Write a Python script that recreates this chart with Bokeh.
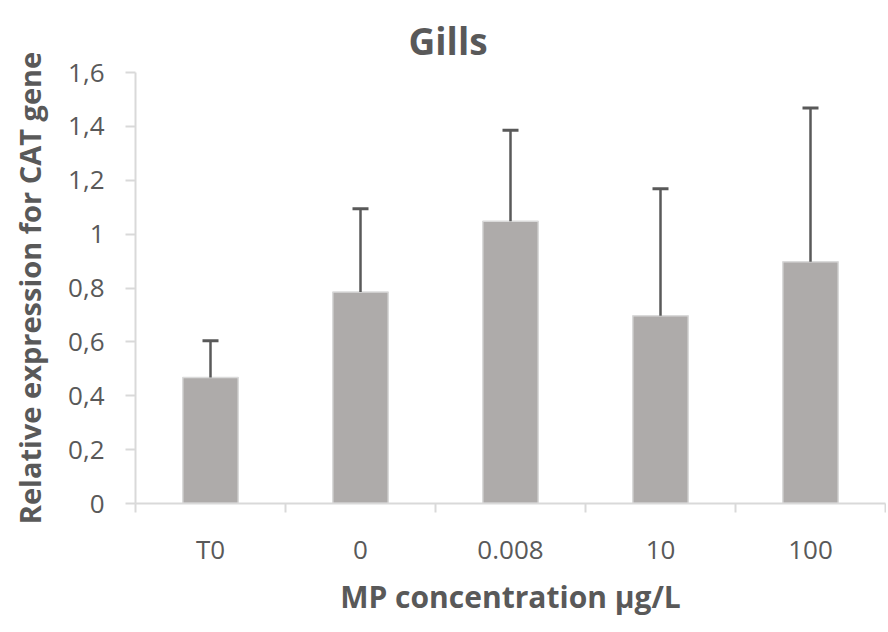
import numpy as np
from bokeh.plotting import figure
from bokeh.models import (ColumnDataSource, Range1d, FixedTicker, CustomJSTickFormatter,
                          Whisker, TeeHead)
from bokeh.embed import file_html
from bokeh.resources import INLINE

categories = ["T0", "0", "0.008", "10", "100"]
means = [0.468, 0.785, 1.048, 0.697, 0.897]
upper_err = [0.604, 1.094, 1.386, 1.168, 1.468]
y_ticks = [0, 0.2, 0.4, 0.6, 0.8, 1.0, 1.2, 1.4, 1.6]
title_text = "Gills"

FONT = "Open Sans"
TXT = "#595959"
AX = "#D9D9D9"
W, H = 886, 628

xpos = np.arange(len(categories)) + 0.5
src = ColumnDataSource(dict(x=xpos, value=means, upper=upper_err))

p = figure(width=W, height=H, output_backend="svg", toolbar_location=None,
           x_range=Range1d(0, len(categories)), y_range=Range1d(0, 1.6),
           min_border_left=135, min_border_right=1, min_border_top=72, min_border_bottom=125,
           title=title_text)
p.outline_line_color = None
p.grid.visible = False
p.background_fill_color = "white"
p.border_fill_color = "white"

p.title.align = "left"
p.title.offset = 273
p.title.vertical_align = "top"
p.title.text_font = FONT
p.title.text_font_size = "37px"
p.title.text_font_style = "bold"
p.title.text_color = TXT
p.title.standoff = 10

p.vbar(x="x", top="value", width=0.37, source=src,
       fill_color="#AEABAA", line_color="#DADADA", line_width=1.5)

w = Whisker(source=src, base="x", lower="value", upper="upper",
            line_color=TXT, line_width=2.5,
            upper_head=TeeHead(size=16, line_color=TXT, line_width=3),
            lower_head=None, level="overlay")
p.add_layout(w)

# x axis
xa = p.xaxis[0]
xa.ticker = FixedTicker(ticks=list(xpos), minor_ticks=list(np.arange(len(categories) + 1)))
xa.formatter = CustomJSTickFormatter(args=dict(cats=categories),
                                     code="return cats[Math.floor(tick)];")
xa.major_tick_out = 0
xa.major_tick_in = 0
xa.minor_tick_out = 9
xa.minor_tick_in = 0
xa.minor_tick_line_color = AX
xa.minor_tick_line_width = 2
xa.axis_line_color = AX
xa.axis_line_width = 2
xa.major_label_text_font = FONT
xa.major_label_text_font_size = "26px"
xa.major_label_text_color = TXT
xa.major_label_standoff = 18
xa.axis_label = "MP concentration µg/L"
xa.axis_label_text_font = FONT
xa.axis_label_text_font_size = "30px"
xa.axis_label_text_font_style = "bold"
xa.axis_label_text_color = TXT
xa.axis_label_standoff = 6

# y axis
ya = p.yaxis[0]
ya.ticker = FixedTicker(ticks=y_ticks)
ya.formatter = CustomJSTickFormatter(code="""
var s = (Math.round(tick*10)/10).toString();
return s.replace('.', ',');
""")
ya.major_tick_out = 10
ya.major_tick_in = 0
ya.major_tick_line_color = AX
ya.major_tick_line_width = 2
ya.minor_tick_line_color = None
ya.axis_line_color = AX
ya.axis_line_width = 2
ya.major_label_text_font = FONT
ya.major_label_text_font_size = "26px"
ya.major_label_text_color = TXT
ya.major_label_standoff = 21
ya.axis_label = "Relative expression for CAT gene"
ya.axis_label_text_font = FONT
ya.axis_label_text_font_size = "29px"
ya.axis_label_text_font_style = "bold"
ya.axis_label_text_color = TXT
ya.axis_label_standoff = 16

open("out.html", "w").write(file_html(p, INLINE))
